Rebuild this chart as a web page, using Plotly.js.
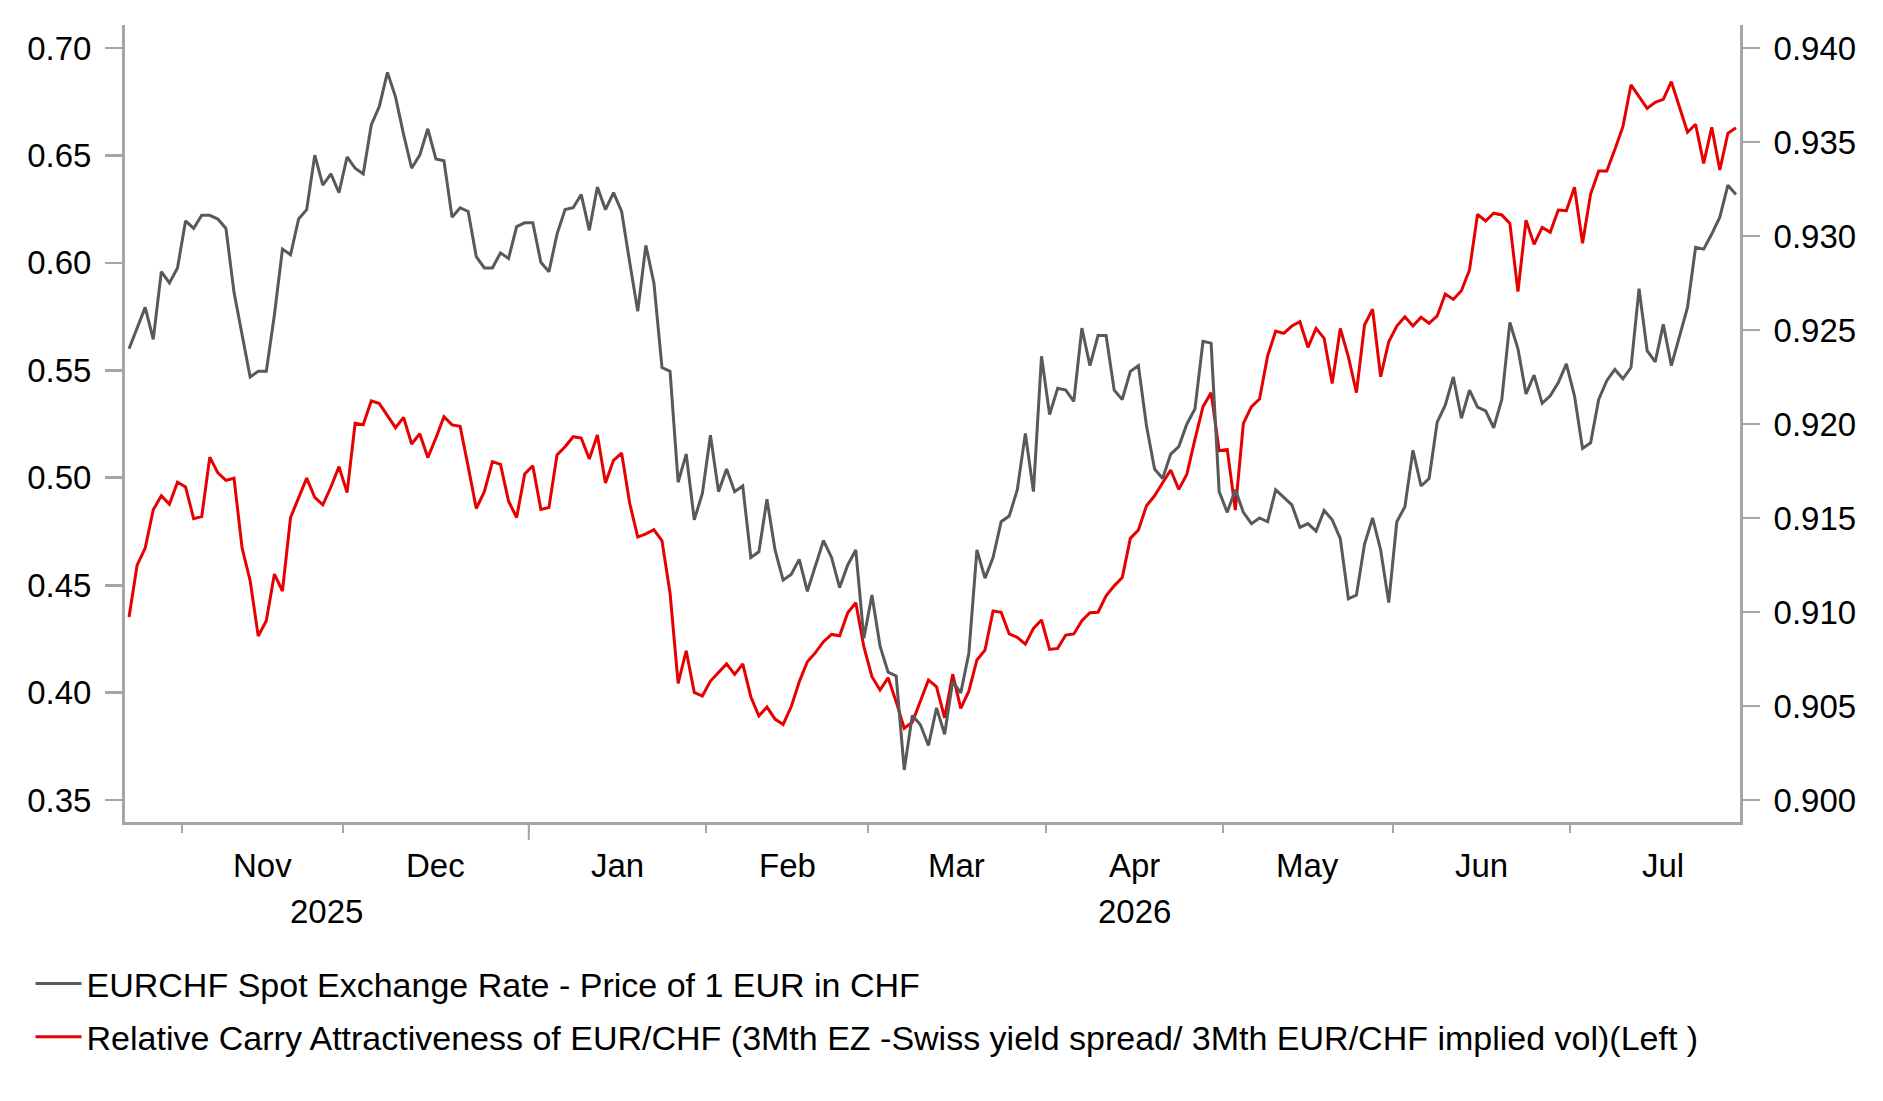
<!DOCTYPE html>
<html>
<head>
<meta charset="utf-8">
<script src="https://cdn.plot.ly/plotly-3.0.1.min.js"></script>
<style>
  body { margin: 0; background: #fff; }
  #myDiv { width: 1883px; height: 1101px; }
</style>
</head>
<body>
<div id="myDiv"></div>
<script>
// first weekday of the series, one value per weekday after that
var startDay = '2025-10-23';

// EURCHF spot (right axis)
var eurchf = [
  0.9240, 0.9251, 0.9262, 0.9245, 0.9281, 0.9275, 0.9283, 0.9308, 0.9304, 0.9311,
  0.9311, 0.9309, 0.9304, 0.9270, 0.9247, 0.9225, 0.9228, 0.9228, 0.9258, 0.9293,
  0.9290, 0.9309, 0.9314, 0.9343, 0.9327, 0.9333, 0.9323, 0.9342, 0.9336, 0.9333,
  0.9359, 0.9369, 0.9387, 0.9374, 0.9354, 0.9336, 0.9343, 0.9357, 0.9341, 0.9340,
  0.9310, 0.9315, 0.9313, 0.9289, 0.9283, 0.9283, 0.9291, 0.9288, 0.9305, 0.9307,
  0.9307, 0.9286, 0.9281, 0.9301, 0.9314, 0.9315, 0.9322, 0.9303, 0.9326, 0.9314,
  0.9323, 0.9313, 0.9286, 0.9260, 0.9295, 0.9275, 0.9230, 0.9228, 0.9169, 0.9184,
  0.9149, 0.9163, 0.9194, 0.9164, 0.9176, 0.9164, 0.9167, 0.9129, 0.9132, 0.9160,
  0.9133, 0.9117, 0.9120, 0.9128, 0.9111, 0.9125, 0.9138, 0.9129, 0.9113, 0.9125,
  0.9133, 0.9086, 0.9109, 0.9082, 0.9068, 0.9066, 0.9016, 0.9045, 0.9040, 0.9029,
  0.9049, 0.9035, 0.9063, 0.9057, 0.9078, 0.9133, 0.9118, 0.9129, 0.9148, 0.9151,
  0.9165, 0.9195, 0.9164, 0.9236, 0.9205, 0.9219, 0.9218, 0.9212, 0.9251, 0.9231,
  0.9247, 0.9247, 0.9218, 0.9213, 0.9228, 0.9231, 0.9199, 0.9176, 0.9171, 0.9184,
  0.9188, 0.9200, 0.9208, 0.9244, 0.9243, 0.9164, 0.9153, 0.9165, 0.9153, 0.9147,
  0.9150, 0.9148, 0.9165, 0.9161, 0.9157, 0.9145, 0.9147, 0.9143, 0.9154, 0.9149,
  0.9139, 0.9107, 0.9109, 0.9136, 0.9150, 0.9133, 0.9105, 0.9148, 0.9156, 0.9186,
  0.9167, 0.9171, 0.9201, 0.9210, 0.9225, 0.9203, 0.9218, 0.9209, 0.9207, 0.9198,
  0.9213, 0.9254, 0.9240, 0.9216, 0.9226, 0.9211, 0.9215, 0.9222, 0.9232, 0.9215,
  0.9187, 0.9190, 0.9213, 0.9223, 0.9229, 0.9224, 0.9230, 0.9272, 0.9239, 0.9233,
  0.9253, 0.9231, 0.9247, 0.9262, 0.9294, 0.9293, 0.9301, 0.9310, 0.9327, 0.9322
];

// relative carry attractiveness (left axis)
var carry = [
  0.4352, 0.4593, 0.4673, 0.4851, 0.4916, 0.4877, 0.4979, 0.4957, 0.4810, 0.4819,
  0.5096, 0.5023, 0.4988, 0.4998, 0.4673, 0.4521, 0.4263, 0.4335, 0.4552, 0.4473,
  0.4815, 0.4904, 0.4998, 0.4909, 0.4874, 0.4957, 0.5052, 0.4931, 0.5254, 0.5247,
  0.5358, 0.5345, 0.5290, 0.5233, 0.5281, 0.5157, 0.5205, 0.5094, 0.5185, 0.5284,
  0.5246, 0.5239, 0.5052, 0.4857, 0.4935, 0.5075, 0.5062, 0.4891, 0.4815, 0.5018,
  0.5056, 0.4853, 0.4862, 0.5106, 0.5144, 0.5191, 0.5185, 0.5087, 0.5199, 0.4976,
  0.5081, 0.5115, 0.4881, 0.4724, 0.4739, 0.4758, 0.4707, 0.4463, 0.4043, 0.4195,
  0.4001, 0.3984, 0.4054, 0.4094, 0.4134, 0.4085, 0.4134, 0.3981, 0.3891, 0.3933,
  0.3877, 0.3852, 0.3934, 0.4051, 0.4144, 0.4186, 0.4237, 0.4271, 0.4265, 0.4372,
  0.4418, 0.4214, 0.4074, 0.4012, 0.4069, 0.3958, 0.3834, 0.3862, 0.3958, 0.4059,
  0.4027, 0.3883, 0.4086, 0.3927, 0.4007, 0.4152, 0.4198, 0.4380, 0.4374, 0.4273,
  0.4257, 0.4226, 0.4299, 0.4338, 0.4201, 0.4206, 0.4268, 0.4273, 0.4335, 0.4372,
  0.4374, 0.4451, 0.4497, 0.4536, 0.4718, 0.4757, 0.4870, 0.4916, 0.4977, 0.5036,
  0.4946, 0.5017, 0.5179, 0.5331, 0.5396, 0.5126, 0.5132, 0.4850, 0.5253, 0.5331,
  0.5366, 0.5567, 0.5683, 0.5672, 0.5706, 0.5726, 0.5607, 0.5695, 0.5649, 0.5439,
  0.5695, 0.5563, 0.5396, 0.5711, 0.5784, 0.5470, 0.5633, 0.5706, 0.5749, 0.5706,
  0.5747, 0.5719, 0.5753, 0.5855, 0.5830, 0.5870, 0.5967, 0.6226, 0.6195, 0.6231,
  0.6223, 0.6184, 0.5866, 0.6199, 0.6086, 0.6165, 0.6142, 0.6246, 0.6243, 0.6352,
  0.6091, 0.6320, 0.6428, 0.6428, 0.6528, 0.6634, 0.6828, 0.6773, 0.6719, 0.6747,
  0.6761, 0.6843, 0.6727, 0.6608, 0.6645, 0.6463, 0.6631, 0.6432, 0.6603, 0.6629
];

var monthNames = ['Nov', 'Dec', 'Jan', 'Feb', 'Mar', 'Apr', 'May', 'Jun', 'Jul'];
var monthStarts = ['2025-11-03', '2025-12-01', '2026-01-01', '2026-02-02', '2026-03-02',
                   '2026-04-01', '2026-05-01', '2026-06-01', '2026-07-01'];
var monthMids = ['2025-11-17', '2025-12-16 12:00', '2026-01-16', '2026-02-16', '2026-03-17',
                 '2026-04-16', '2026-05-15 12:00', '2026-06-16', '2026-07-16 12:00'];
var yearNames = ['2025', '2026'];
var yearMids = ['2025-11-27', '2026-04-16'];

var names = ['EURCHF Spot Exchange Rate - Price of 1 EUR in CHF',
             'Relative Carry Attractiveness of EUR/CHF (3Mth EZ -Swiss yield spread/ 3Mth EUR/CHF implied vol)(Left )'];

// weekday dates, each point sits in the middle of its day
function weekdays(start, n) {
  var out = [];
  var d = new Date(start + 'T12:00:00Z');
  while (out.length < n) {
    var wd = d.getUTCDay();
    if (wd != 0 && wd != 6) out.push(d.toISOString().slice(0, 10) + ' 12:00');
    d.setUTCDate(d.getUTCDate() + 1);
  }
  return out;
}
var days = weekdays(startDay, eurchf.length);

var axisGrey = '#a6a6a6';
var fnt = {family: 'Liberation Sans, Arial, sans-serif', size: 33, color: '#000'};

var data = [
  {
    type: 'scatter', mode: 'lines', name: names[0], legendgroup: 'a',
    x: days, y: eurchf, yaxis: 'y2',
    line: {color: '#595959', width: 3}
  },
  {
    type: 'scatter', mode: 'lines', name: names[1], legendgroup: 'b',
    x: days, y: carry, yaxis: 'y',
    line: {color: '#e60000', width: 3}
  }
];

var annotations = [];
for (var i = 0; i < monthNames.length; i++) {
  annotations.push({
    x: monthMids[i], xref: 'x', y: 0, yref: 'paper',
    text: monthNames[i], showarrow: false, font: fnt,
    xanchor: 'center', yanchor: 'middle', yshift: -43
  });
}
for (var j = 0; j < yearNames.length; j++) {
  annotations.push({
    x: yearMids[j], xref: 'x', y: 0, yref: 'paper',
    text: yearNames[j], showarrow: false, font: fnt,
    xanchor: 'center', yanchor: 'middle', yshift: -89
  });
}

var layout = {
  width: 1883, height: 1101,
  margin: {l: 125, r: 143, t: 25, b: 279, pad: 0, autoexpand: false},
  paper_bgcolor: '#fff', plot_bgcolor: '#fff',
  font: fnt,
  showlegend: true,
  legend: {
    x: -0.0585, y: -0.1669, xanchor: 'left', yanchor: 'top',
    font: {family: fnt.family, size: 34, color: '#000'},
    bgcolor: 'rgba(0,0,0,0)', borderwidth: 0,
    traceorder: 'grouped', tracegroupgap: 6, itemwidth: 46
  },
  xaxis: {
    type: 'date',
    range: ['2025-10-23', '2026-07-30'],
    rangebreaks: [{bounds: ['sat', 'mon']}],
    tickmode: 'array', tickvals: monthStarts,
    showticklabels: false,
    ticks: 'outside', ticklen: 8, tickwidth: 2, tickcolor: axisGrey,
    showline: true, linecolor: axisGrey, linewidth: 3,
    showgrid: false, zeroline: false
  },
  yaxis: {
    range: [0.3398, 0.7107],
    tick0: 0.35, dtick: 0.05, tickformat: '.2f',
    ticks: 'outside', ticklen: 17, tickwidth: 2.7, tickcolor: axisGrey,
    ticklabelstandoff: 7,
    showline: true, linecolor: axisGrey, linewidth: 3,
    showgrid: false, zeroline: false, tickfont: fnt
  },
  yaxis2: {
    overlaying: 'y', side: 'right',
    range: [0.89883, 0.94122],
    tick0: 0.900, dtick: 0.005, tickformat: '.3f',
    ticks: 'outside', ticklen: 17, tickwidth: 2.7, tickcolor: axisGrey,
    ticklabelstandoff: 7,
    showline: true, linecolor: axisGrey, linewidth: 3,
    showgrid: false, zeroline: false, tickfont: fnt
  },
  shapes: [
    // the year boundary gets a longer tick
    {type: 'line', xref: 'x', yref: 'paper', x0: monthStarts[2], x1: monthStarts[2],
     ysizemode: 'pixel', yanchor: 0, y0: 0, y1: -18,
     line: {color: axisGrey, width: 2}}
  ],
  annotations: annotations
};

Plotly.newPlot('myDiv', data, layout, {displayModeBar: false, staticPlot: true});
</script>
</body>
</html>
